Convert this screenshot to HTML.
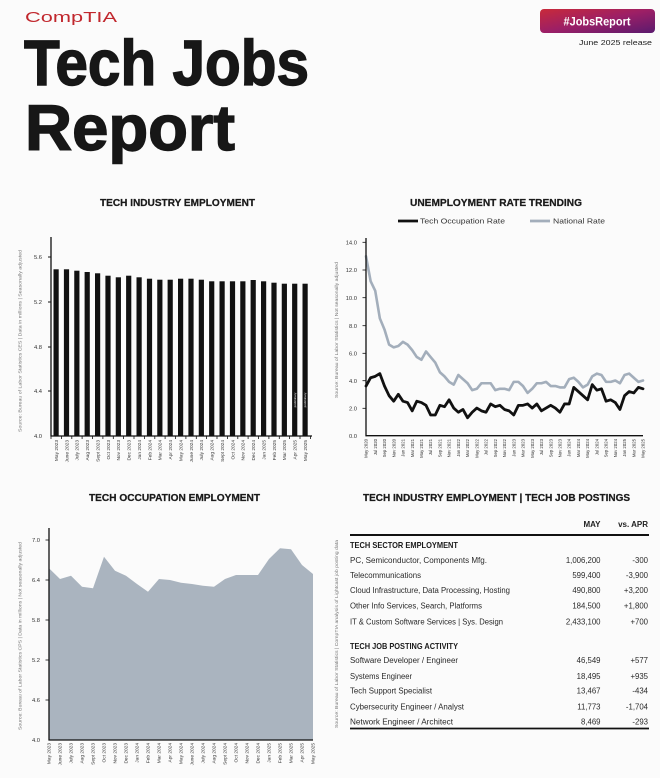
<!DOCTYPE html>
<html>
<head>
<meta charset="utf-8">
<style>
  html,body{margin:0;padding:0;background:#fbfbfb;}
  svg{display:block;}
  text{font-family:"Liberation Sans", sans-serif;}
</style>
</head>
<body>
<svg width="660" height="778" viewBox="0 0 660 778" xmlns="http://www.w3.org/2000/svg">
  <defs>
    <linearGradient id="bg" x1="0" y1="0" x2="1" y2="1">
      <stop offset="0" stop-color="#c92a3a"/>
      <stop offset="0.5" stop-color="#9c1f66"/>
      <stop offset="1" stop-color="#5a1a6e"/>
    </linearGradient>
  </defs>
  <rect x="0" y="0" width="660" height="778" fill="#fbfbfb"/>

  <!-- Header -->
  <text x="25" y="22" font-size="15" fill="#c1272d" textLength="92" lengthAdjust="spacingAndGlyphs">CompTIA</text>
  <text x="24" y="85" font-size="64" font-weight="bold" fill="#171717" stroke="#171717" stroke-width="1.4" textLength="285" lengthAdjust="spacingAndGlyphs">Tech Jobs</text>
  <text x="25" y="150" font-size="64" font-weight="bold" fill="#171717" stroke="#171717" stroke-width="1.4" textLength="210" lengthAdjust="spacingAndGlyphs">Report</text>

  <rect x="540" y="9" width="115" height="24" rx="4" fill="url(#bg)"/>
  <text x="597" y="25.5" font-size="12" font-weight="bold" fill="#ffffff" text-anchor="middle" textLength="67" lengthAdjust="spacingAndGlyphs">#JobsReport</text>
  <text x="579" y="45" font-size="7.5" fill="#222" textLength="73" lengthAdjust="spacingAndGlyphs">June 2025 release</text>

  <!-- ============ BAR CHART: TECH INDUSTRY EMPLOYMENT ============ -->
  <text x="100" y="206" font-size="10" font-weight="bold" fill="#1a1a1a" stroke="#1a1a1a" stroke-width="0.25" textLength="155" lengthAdjust="spacingAndGlyphs">TECH INDUSTRY EMPLOYMENT</text>
  <text transform="translate(21.5,341) rotate(-90)" font-size="4.5" fill="#777" text-anchor="middle" textLength="182" lengthAdjust="spacingAndGlyphs">Source: Bureau of Labor Statistics CES | Data in millions | Seasonally adjusted</text>
  <g font-size="5.8" fill="#333" text-anchor="end">
    <text x="42" y="259">5.6</text>
    <text x="42" y="304">5.2</text>
    <text x="42" y="349">4.8</text>
    <text x="42" y="393">4.4</text>
    <text x="42" y="438">4.0</text>
  </g>
  <g stroke="#111" stroke-width="1">
    <line x1="48" y1="257" x2="51" y2="257"/>
    <line x1="48" y1="302" x2="51" y2="302"/>
    <line x1="48" y1="347" x2="51" y2="347"/>
    <line x1="48" y1="391" x2="51" y2="391"/>
  </g>
  <g fill="#111">
    <rect x="53.5" y="269.3" width="5.2" height="166.7"/>
    <rect x="63.9" y="269.3" width="5.2" height="166.7"/>
    <rect x="74.25" y="270.7" width="5.2" height="165.3"/>
    <rect x="84.6" y="272" width="5.2" height="164"/>
    <rect x="95" y="273.3" width="5.2" height="162.7"/>
    <rect x="105.4" y="275.7" width="5.2" height="160.3"/>
    <rect x="115.75" y="277.3" width="5.2" height="158.7"/>
    <rect x="126.1" y="275.7" width="5.2" height="160.3"/>
    <rect x="136.5" y="277.3" width="5.2" height="158.7"/>
    <rect x="146.9" y="278.7" width="5.2" height="157.3"/>
    <rect x="157.25" y="279.7" width="5.2" height="156.3"/>
    <rect x="167.6" y="279.7" width="5.2" height="156.3"/>
    <rect x="178" y="278.7" width="5.2" height="157.3"/>
    <rect x="188.4" y="278.7" width="5.2" height="157.3"/>
    <rect x="198.75" y="279.7" width="5.2" height="156.3"/>
    <rect x="209.1" y="281.3" width="5.2" height="154.7"/>
    <rect x="219.5" y="281.3" width="5.2" height="154.7"/>
    <rect x="229.9" y="281.3" width="5.2" height="154.7"/>
    <rect x="240.25" y="281.3" width="5.2" height="154.7"/>
    <rect x="250.6" y="280" width="5.2" height="156"/>
    <rect x="261" y="281.3" width="5.2" height="154.7"/>
    <rect x="271.4" y="282.7" width="5.2" height="153.3"/>
    <rect x="281.75" y="283.7" width="5.2" height="152.3"/>
    <rect x="292.1" y="283.7" width="5.2" height="152.3"/>
    <rect x="302.5" y="283.7" width="5.2" height="152.3"/>
  </g>
  <g font-size="3" fill="#fff" text-anchor="middle">
    <text transform="translate(295.8,400) rotate(-90)">preliminary</text>
    <text transform="translate(306.2,400) rotate(-90)">preliminary</text>
  </g>
  <line x1="51" y1="237" x2="51" y2="436.5" stroke="#111" stroke-width="1.3"/>
  <line x1="50.5" y1="436" x2="312" y2="436" stroke="#111" stroke-width="1.3"/>
  <g stroke="#111" stroke-width="0.8">
    <line x1="51" y1="436" x2="51" y2="439"/><line x1="61.4" y1="436" x2="61.4" y2="439"/><line x1="71.8" y1="436" x2="71.8" y2="439"/><line x1="82.1" y1="436" x2="82.1" y2="439"/><line x1="92.5" y1="436" x2="92.5" y2="439"/><line x1="102.9" y1="436" x2="102.9" y2="439"/><line x1="113.3" y1="436" x2="113.3" y2="439"/><line x1="123.6" y1="436" x2="123.6" y2="439"/><line x1="134" y1="436" x2="134" y2="439"/><line x1="144.4" y1="436" x2="144.4" y2="439"/><line x1="154.8" y1="436" x2="154.8" y2="439"/><line x1="165.1" y1="436" x2="165.1" y2="439"/><line x1="175.5" y1="436" x2="175.5" y2="439"/><line x1="185.9" y1="436" x2="185.9" y2="439"/><line x1="196.3" y1="436" x2="196.3" y2="439"/><line x1="206.6" y1="436" x2="206.6" y2="439"/><line x1="217" y1="436" x2="217" y2="439"/><line x1="227.4" y1="436" x2="227.4" y2="439"/><line x1="237.8" y1="436" x2="237.8" y2="439"/><line x1="248.1" y1="436" x2="248.1" y2="439"/><line x1="258.5" y1="436" x2="258.5" y2="439"/><line x1="268.9" y1="436" x2="268.9" y2="439"/><line x1="279.3" y1="436" x2="279.3" y2="439"/><line x1="289.6" y1="436" x2="289.6" y2="439"/><line x1="300" y1="436" x2="300" y2="439"/><line x1="310.4" y1="436" x2="310.4" y2="439"/>
  </g>
  <g font-size="4.8" fill="#333" text-anchor="end">
    <text transform="translate(57.9,440) rotate(-90)">May 2023</text>
    <text transform="translate(68.3,440) rotate(-90)">June 2023</text>
    <text transform="translate(78.6,440) rotate(-90)">July 2023</text>
    <text transform="translate(89,440) rotate(-90)">Aug 2023</text>
    <text transform="translate(99.4,440) rotate(-90)">Sept 2023</text>
    <text transform="translate(109.8,440) rotate(-90)">Oct 2023</text>
    <text transform="translate(120.1,440) rotate(-90)">Nov 2023</text>
    <text transform="translate(130.5,440) rotate(-90)">Dec 2023</text>
    <text transform="translate(140.9,440) rotate(-90)">Jan 2024</text>
    <text transform="translate(151.3,440) rotate(-90)">Feb 2024</text>
    <text transform="translate(161.6,440) rotate(-90)">Mar 2024</text>
    <text transform="translate(172,440) rotate(-90)">Apr 2024</text>
    <text transform="translate(182.4,440) rotate(-90)">May 2024</text>
    <text transform="translate(192.8,440) rotate(-90)">June 2024</text>
    <text transform="translate(203.1,440) rotate(-90)">July 2024</text>
    <text transform="translate(213.5,440) rotate(-90)">Aug 2024</text>
    <text transform="translate(223.9,440) rotate(-90)">Sept 2024</text>
    <text transform="translate(234.3,440) rotate(-90)">Oct 2024</text>
    <text transform="translate(244.6,440) rotate(-90)">Nov 2024</text>
    <text transform="translate(255,440) rotate(-90)">Dec 2024</text>
    <text transform="translate(265.4,440) rotate(-90)">Jan 2025</text>
    <text transform="translate(275.8,440) rotate(-90)">Feb 2025</text>
    <text transform="translate(286.1,440) rotate(-90)">Mar 2025</text>
    <text transform="translate(296.5,440) rotate(-90)">Apr 2025</text>
    <text transform="translate(306.9,440) rotate(-90)">May 2025</text>
  </g>

  <!-- ============ LINE CHART: UNEMPLOYMENT RATE TRENDING ============ -->
  <text x="410" y="206" font-size="10" font-weight="bold" fill="#1a1a1a" stroke="#1a1a1a" stroke-width="0.25" textLength="172" lengthAdjust="spacingAndGlyphs">UNEMPLOYMENT RATE TRENDING</text>
  <line x1="398" y1="221" x2="418" y2="221" stroke="#111" stroke-width="2.8"/>
  <text x="420" y="223.5" font-size="7" fill="#333" textLength="85" lengthAdjust="spacingAndGlyphs">Tech Occupation Rate</text>
  <line x1="530" y1="221" x2="550" y2="221" stroke="#a3aebb" stroke-width="2.8"/>
  <text x="553" y="223.5" font-size="7" fill="#333" textLength="52" lengthAdjust="spacingAndGlyphs">National Rate</text>

  <text transform="translate(338,330) rotate(-90)" font-size="4.5" fill="#777" text-anchor="middle" textLength="136" lengthAdjust="spacingAndGlyphs">Source: Bureau of Labor Statistics | Not seasonally adjusted</text>
  <g font-size="5.8" fill="#333" text-anchor="end">
    <text x="357" y="244.4">14.0</text>
    <text x="357" y="272.1">12.0</text>
    <text x="357" y="299.8">10.0</text>
    <text x="357" y="327.8">8.0</text>
    <text x="357" y="355.4">6.0</text>
    <text x="357" y="382.8">4.0</text>
    <text x="357" y="410.4">2.0</text>
    <text x="357" y="437.8">0.0</text>
  </g>
  <g stroke="#111" stroke-width="0.8">
    <line x1="362.5" y1="242.3" x2="366" y2="242.3"/>
    <line x1="362.5" y1="270" x2="366" y2="270"/>
    <line x1="362.5" y1="297.7" x2="366" y2="297.7"/>
    <line x1="362.5" y1="325.7" x2="366" y2="325.7"/>
    <line x1="362.5" y1="353.3" x2="366" y2="353.3"/>
    <line x1="362.5" y1="380.7" x2="366" y2="380.7"/>
    <line x1="362.5" y1="408.3" x2="366" y2="408.3"/>
  </g>
  <g transform="translate(366,435.7) scale(4.617,-13.8)" fill="none" stroke-linejoin="round" stroke-linecap="round">
    <polyline vector-effect="non-scaling-stroke" stroke="#a3aebb" stroke-width="2.6" points="0,13.0 1,11.2 2,10.5 3,8.5 4,7.7 5,6.6 6,6.4 7,6.5 8,6.8 9,6.6 10,6.2 11,5.7 12,5.5 13,6.1 14,5.7 15,5.3 16,4.6 17,4.3 18,3.9 19,3.7 20,4.4 21,4.1 22,3.8 23,3.3 24,3.4 25,3.8 26,3.8 27,3.8 28,3.3 29,3.4 30,3.4 31,3.3 32,3.9 33,3.9 34,3.6 35,3.1 36,3.4 37,3.8 38,3.8 39,3.9 40,3.6 41,3.6 42,3.5 43,3.5 44,4.1 45,4.2 46,3.9 47,3.5 48,3.7 49,4.3 50,4.5 51,4.4 52,3.9 53,3.9 54,4.0 55,3.8 56,4.4 57,4.5 58,4.2 59,3.9 60,4.0"/>
    <polyline vector-effect="non-scaling-stroke" stroke="#111" stroke-width="2.8" points="0,3.6 1,4.2 2,4.3 3,4.5 4,3.6 5,2.9 6,2.5 7,3.0 8,2.5 9,2.4 10,1.8 11,2.5 12,2.4 13,2.2 14,1.5 15,1.5 16,2.2 17,2.1 18,2.6 19,2.0 20,1.7 21,1.9 22,1.3 23,1.7 24,2.0 25,1.8 26,1.7 27,2.3 28,2.1 29,2.2 30,1.9 31,1.8 32,1.5 33,2.2 34,2.2 35,2.3 36,2.0 37,2.3 38,1.8 39,2.0 40,2.2 41,2.0 42,1.7 43,2.3 44,2.3 45,3.5 46,3.2 47,2.9 48,2.6 49,3.7 50,3.3 51,3.4 52,2.5 53,2.6 54,2.4 55,1.9 56,2.9 57,3.2 58,3.1 59,3.5 60,3.4"/>
  </g>
  <line x1="366" y1="238" x2="366" y2="436.2" stroke="#111" stroke-width="1.3"/>
  <line x1="365.5" y1="435.7" x2="643" y2="435.7" stroke="#111" stroke-width="1.3"/>
  <g font-size="4.3" fill="#333" text-anchor="end">
    <text transform="translate(367.6,439) rotate(-90)">May 2020</text>
    <text transform="translate(376.8,439) rotate(-90)">Jul 2020</text>
    <text transform="translate(386.1,439) rotate(-90)">Sep 2020</text>
    <text transform="translate(395.3,439) rotate(-90)">Nov 2020</text>
    <text transform="translate(404.5,439) rotate(-90)">Jan 2021</text>
    <text transform="translate(413.8,439) rotate(-90)">Mar 2021</text>
    <text transform="translate(423,439) rotate(-90)">May 2021</text>
    <text transform="translate(432.2,439) rotate(-90)">Jul 2021</text>
    <text transform="translate(441.5,439) rotate(-90)">Sep 2021</text>
    <text transform="translate(450.7,439) rotate(-90)">Nov 2021</text>
    <text transform="translate(459.9,439) rotate(-90)">Jan 2022</text>
    <text transform="translate(469.2,439) rotate(-90)">Mar 2022</text>
    <text transform="translate(478.4,439) rotate(-90)">May 2022</text>
    <text transform="translate(487.6,439) rotate(-90)">Jul 2022</text>
    <text transform="translate(496.9,439) rotate(-90)">Sep 2022</text>
    <text transform="translate(506.1,439) rotate(-90)">Nov 2022</text>
    <text transform="translate(515.3,439) rotate(-90)">Jan 2023</text>
    <text transform="translate(524.6,439) rotate(-90)">Mar 2023</text>
    <text transform="translate(533.8,439) rotate(-90)">May 2023</text>
    <text transform="translate(543,439) rotate(-90)">Jul 2023</text>
    <text transform="translate(552.3,439) rotate(-90)">Sep 2023</text>
    <text transform="translate(561.5,439) rotate(-90)">Nov 2023</text>
    <text transform="translate(570.7,439) rotate(-90)">Jan 2024</text>
    <text transform="translate(580,439) rotate(-90)">Mar 2024</text>
    <text transform="translate(589.2,439) rotate(-90)">May 2024</text>
    <text transform="translate(598.4,439) rotate(-90)">Jul 2024</text>
    <text transform="translate(607.7,439) rotate(-90)">Sep 2024</text>
    <text transform="translate(616.9,439) rotate(-90)">Nov 2024</text>
    <text transform="translate(626.1,439) rotate(-90)">Jan 2025</text>
    <text transform="translate(635.4,439) rotate(-90)">Mar 2025</text>
    <text transform="translate(644.6,439) rotate(-90)">May 2025</text>
  </g>

  <!-- ============ AREA CHART: TECH OCCUPATION EMPLOYMENT ============ -->
  <text x="89" y="501" font-size="10" font-weight="bold" fill="#1a1a1a" stroke="#1a1a1a" stroke-width="0.25" textLength="171" lengthAdjust="spacingAndGlyphs">TECH OCCUPATION EMPLOYMENT</text>
  <text transform="translate(21.5,636) rotate(-90)" font-size="4.5" fill="#777" text-anchor="middle" textLength="188" lengthAdjust="spacingAndGlyphs">Source: Bureau of Labor Statistics CPS | Data in millions | Not seasonally adjusted</text>
  <polygon fill="#aab4bf" points="49,740 49,568.3 60,579 71,575.7 82,586.7 93,588.3 104,556.7 115,570.7 126,575.7 137,584 148,591.7 159,579 170,580 181,582.7 192,584 203,585.7 214,586.7 225,579 236,575 247,575 258,575 269,559 280,548.3 291,549.3 302,565 313,574 313,740"/>
  <g font-size="5.8" fill="#333" text-anchor="end">
    <text x="40" y="542">7.0</text>
    <text x="40" y="582">6.4</text>
    <text x="40" y="622">5.8</text>
    <text x="40" y="662">5.2</text>
    <text x="40" y="702">4.6</text>
    <text x="40" y="742">4.0</text>
  </g>
  <g stroke="#111" stroke-width="0.8">
    <line x1="45.5" y1="540" x2="49" y2="540"/>
    <line x1="45.5" y1="580" x2="49" y2="580"/>
    <line x1="45.5" y1="620" x2="49" y2="620"/>
    <line x1="45.5" y1="660" x2="49" y2="660"/>
    <line x1="45.5" y1="700" x2="49" y2="700"/>
  </g>
  <line x1="49" y1="528" x2="49" y2="740.5" stroke="#111" stroke-width="1.3"/>
  <line x1="48.5" y1="740" x2="313" y2="740" stroke="#111" stroke-width="1.3"/>
  <g font-size="4.8" fill="#333" text-anchor="end">
    <text transform="translate(50.7,743) rotate(-90)">May 2023</text>
    <text transform="translate(61.7,743) rotate(-90)">June 2023</text>
    <text transform="translate(72.7,743) rotate(-90)">July 2023</text>
    <text transform="translate(83.7,743) rotate(-90)">Aug 2023</text>
    <text transform="translate(94.7,743) rotate(-90)">Sept 2023</text>
    <text transform="translate(105.7,743) rotate(-90)">Oct 2023</text>
    <text transform="translate(116.7,743) rotate(-90)">Nov 2023</text>
    <text transform="translate(127.7,743) rotate(-90)">Dec 2023</text>
    <text transform="translate(138.7,743) rotate(-90)">Jan 2024</text>
    <text transform="translate(149.7,743) rotate(-90)">Feb 2024</text>
    <text transform="translate(160.7,743) rotate(-90)">Mar 2024</text>
    <text transform="translate(171.7,743) rotate(-90)">Apr 2024</text>
    <text transform="translate(182.7,743) rotate(-90)">May 2024</text>
    <text transform="translate(193.7,743) rotate(-90)">June 2024</text>
    <text transform="translate(204.7,743) rotate(-90)">July 2024</text>
    <text transform="translate(215.7,743) rotate(-90)">Aug 2024</text>
    <text transform="translate(226.7,743) rotate(-90)">Sept 2024</text>
    <text transform="translate(237.7,743) rotate(-90)">Oct 2024</text>
    <text transform="translate(248.7,743) rotate(-90)">Nov 2024</text>
    <text transform="translate(259.7,743) rotate(-90)">Dec 2024</text>
    <text transform="translate(270.7,743) rotate(-90)">Jan 2025</text>
    <text transform="translate(281.7,743) rotate(-90)">Feb 2025</text>
    <text transform="translate(292.7,743) rotate(-90)">Mar 2025</text>
    <text transform="translate(303.7,743) rotate(-90)">Apr 2025</text>
    <text transform="translate(314.7,743) rotate(-90)">May 2025</text>
  </g>

  <!-- ============ TABLE ============ -->
  <text x="363" y="501" font-size="10" font-weight="bold" fill="#1a1a1a" stroke="#1a1a1a" stroke-width="0.25" textLength="267" lengthAdjust="spacingAndGlyphs">TECH INDUSTRY EMPLOYMENT | TECH JOB POSTINGS</text>
  <text transform="translate(338,634) rotate(-90)" font-size="4.5" fill="#777" text-anchor="middle" textLength="188" lengthAdjust="spacingAndGlyphs">Source: Bureau of Labor Statistics | CompTIA analysis of Lightcast job posting data</text>

  <text x="600.5" y="527" font-size="8" font-weight="bold" fill="#222" text-anchor="end">MAY</text>
  <text x="648" y="527" font-size="8" font-weight="bold" fill="#222" text-anchor="end">vs. APR</text>
  <line x1="350" y1="535" x2="649" y2="535" stroke="#111" stroke-width="2"/>

  <text x="350" y="548" font-size="8.5" font-weight="bold" fill="#1a1a1a" textLength="108" lengthAdjust="spacingAndGlyphs">TECH SECTOR EMPLOYMENT</text>
  <g font-size="7.8" fill="#2a2a2a">
    <text x="350" y="563" textLength="137" lengthAdjust="spacingAndGlyphs">PC, Semiconductor, Components Mfg.</text>
    <text x="350" y="578" textLength="71" lengthAdjust="spacingAndGlyphs">Telecommunications</text>
    <text x="350" y="593" textLength="160" lengthAdjust="spacingAndGlyphs">Cloud Infrastructure, Data Processing, Hosting</text>
    <text x="350" y="608.5" textLength="132" lengthAdjust="spacingAndGlyphs">Other Info Services, Search, Platforms</text>
    <text x="350" y="624.5" textLength="153" lengthAdjust="spacingAndGlyphs">IT &amp; Custom Software Services | Sys. Design</text>
  </g>
  <g font-size="7.8" fill="#2a2a2a" text-anchor="end">
    <text x="600.5" y="563">1,006,200</text>
    <text x="600.5" y="578">599,400</text>
    <text x="600.5" y="593">490,800</text>
    <text x="600.5" y="608.5">184,500</text>
    <text x="600.5" y="624.5">2,433,100</text>
    <text x="648" y="563">-300</text>
    <text x="648" y="578">-3,900</text>
    <text x="648" y="593">+3,200</text>
    <text x="648" y="608.5">+1,800</text>
    <text x="648" y="624.5">+700</text>
  </g>

  <text x="350" y="649" font-size="8.5" font-weight="bold" fill="#1a1a1a" textLength="108" lengthAdjust="spacingAndGlyphs">TECH JOB POSTING ACTIVITY</text>
  <g font-size="7.8" fill="#2a2a2a">
    <text x="350" y="663" textLength="108" lengthAdjust="spacingAndGlyphs">Software Developer / Engineer</text>
    <text x="350" y="679" textLength="62" lengthAdjust="spacingAndGlyphs">Systems Engineer</text>
    <text x="350" y="693.5" textLength="82" lengthAdjust="spacingAndGlyphs">Tech Support Specialist</text>
    <text x="350" y="709.5" textLength="114" lengthAdjust="spacingAndGlyphs">Cybersecurity Engineer / Analyst</text>
    <text x="350" y="724.5" textLength="103" lengthAdjust="spacingAndGlyphs">Network Engineer / Architect</text>
  </g>
  <g font-size="7.8" fill="#2a2a2a" text-anchor="end">
    <text x="600.5" y="663">46,549</text>
    <text x="600.5" y="679">18,495</text>
    <text x="600.5" y="693.5">13,467</text>
    <text x="600.5" y="709.5">11,773</text>
    <text x="600.5" y="724.5">8,469</text>
    <text x="648" y="663">+577</text>
    <text x="648" y="679">+935</text>
    <text x="648" y="693.5">-434</text>
    <text x="648" y="709.5">-1,704</text>
    <text x="648" y="724.5">-293</text>
  </g>
  <line x1="350" y1="728.5" x2="649" y2="728.5" stroke="#111" stroke-width="1.8"/>
</svg>
</body>
</html>
